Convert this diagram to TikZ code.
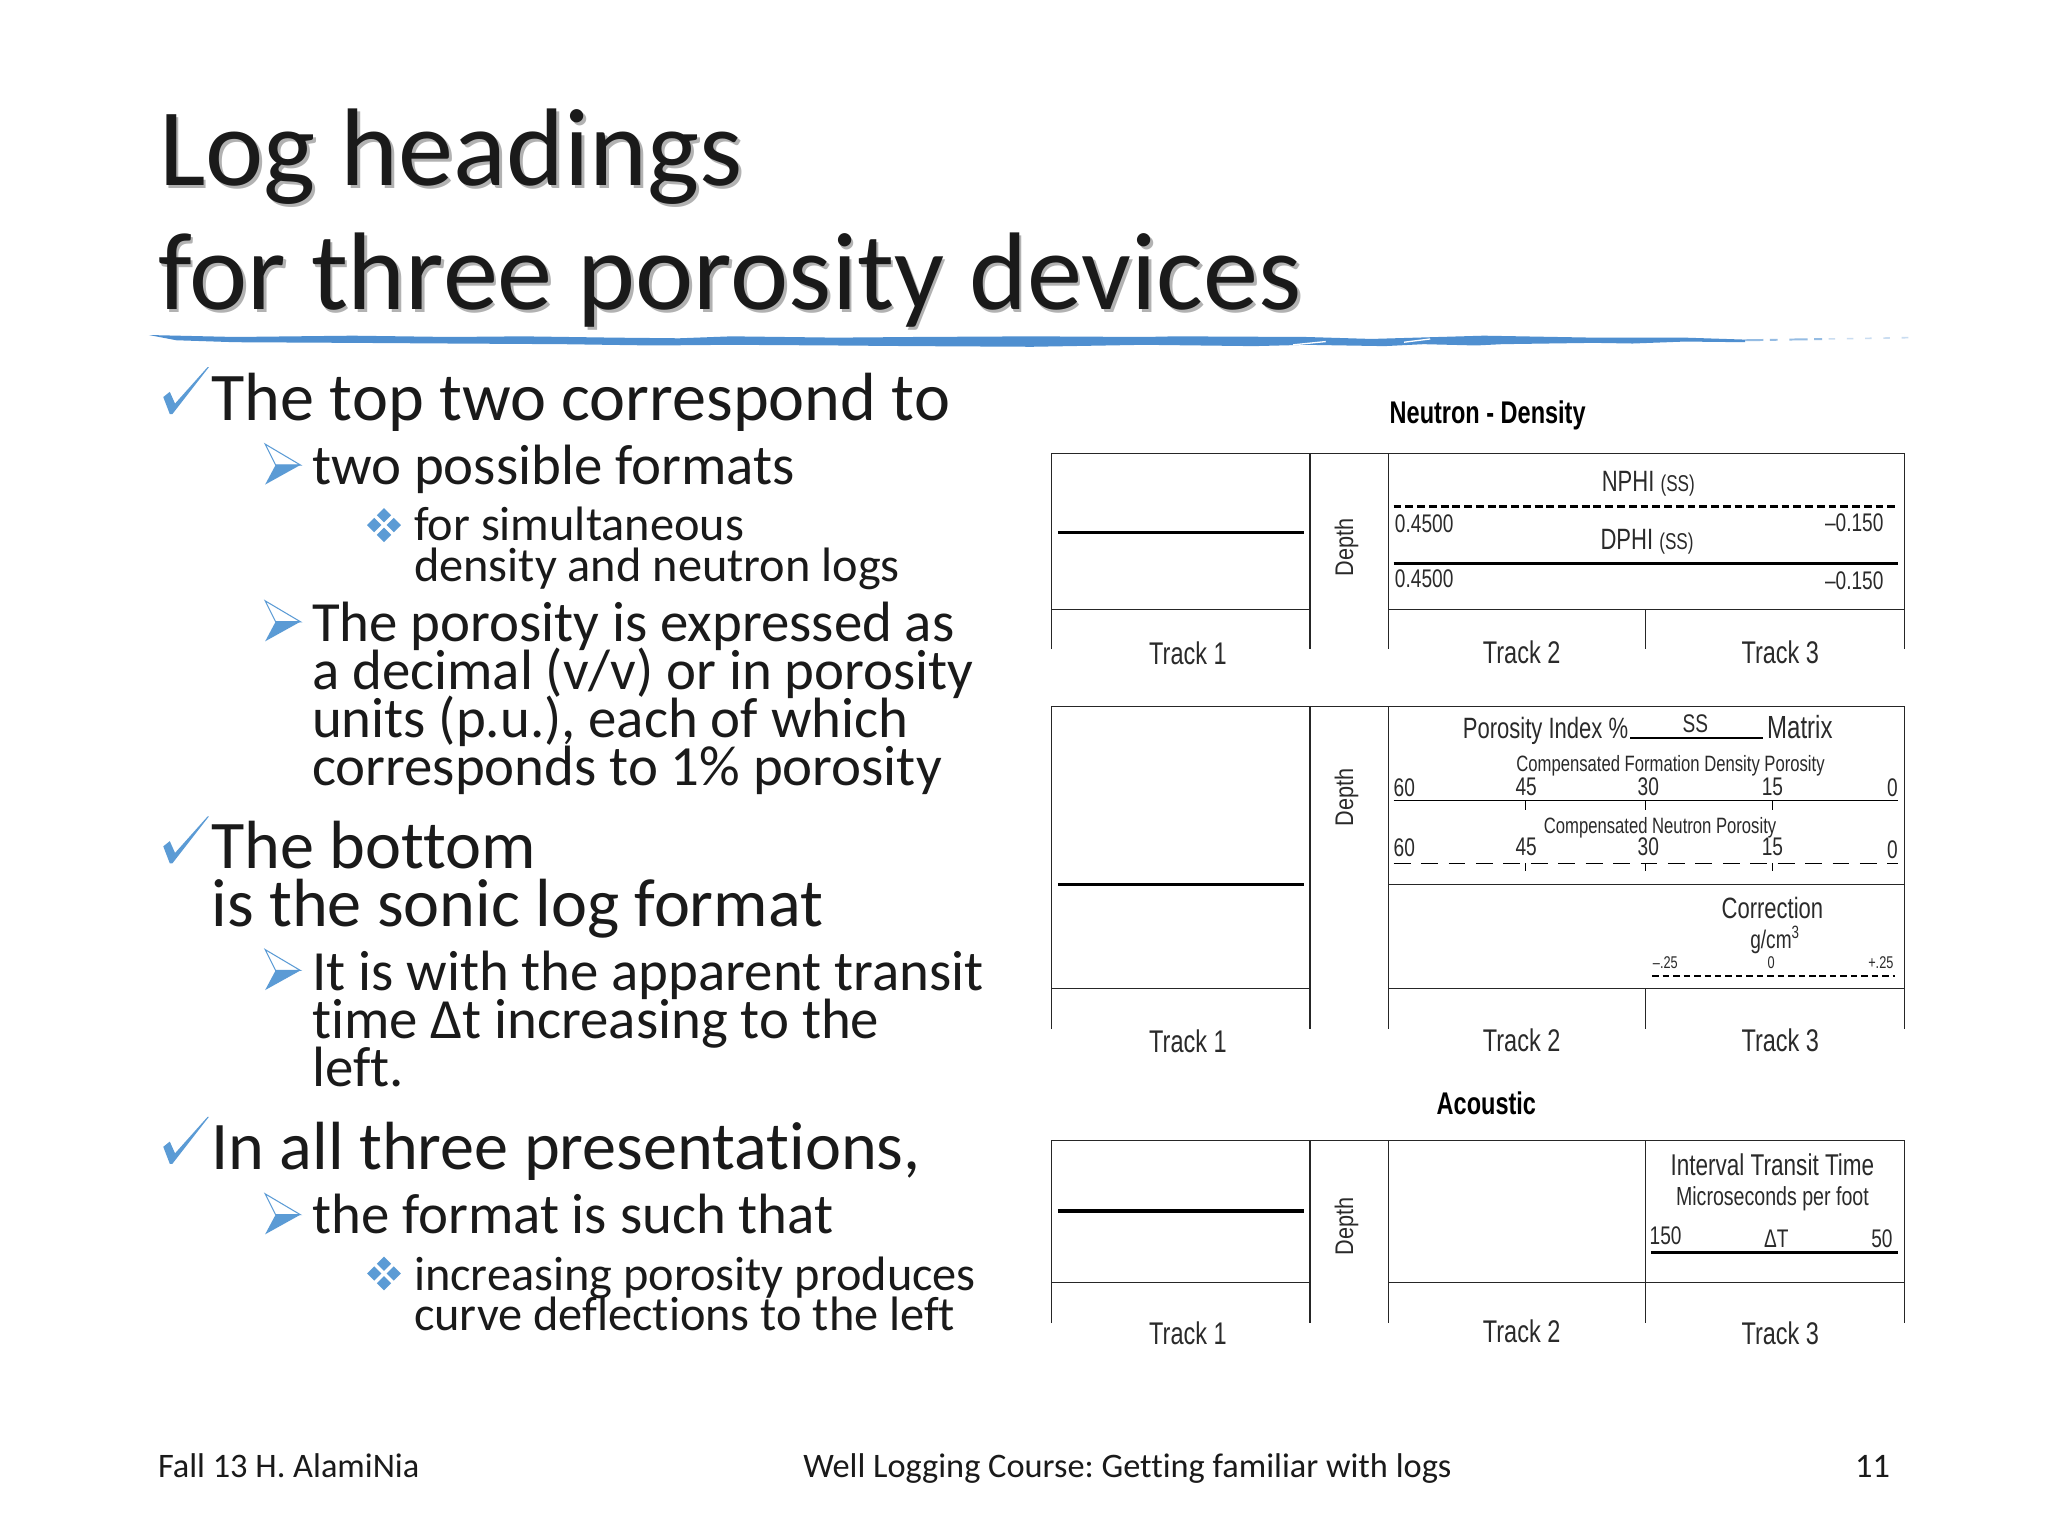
\documentclass[tikz,border=0pt]{standalone}
\usepackage{fontspec}
\setmainfont[Ligatures=NoCommon]{Carlito}
\newfontfamily\logfont[FakeStretch=0.75]{Liberation Sans}
\newfontfamily\depthfont[FakeStretch=0.85]{Liberation Sans}
\usepackage{xcolor}
\usetikzlibrary{positioning}
\frenchspacing

\definecolor{bulletblue}{HTML}{5B9BD5}
\definecolor{ruleblue}{HTML}{4F8FD0}
\definecolor{inkblack}{HTML}{1A1A1A}
\definecolor{logink}{HTML}{2A2A2A}

\tikzset{
	slidetext/.style={anchor=base west, inner sep=0pt, outer sep=0pt, text=inkblack},
	titletext/.style={slidetext, font=\fontsize{84.5}{84.5}\selectfont},
	titleshade/.style={titletext, text=black!30},
	levelone/.style={slidetext, font=\fontsize{52.2}{52.2}\selectfont},
	leveltwo/.style={slidetext, font=\fontsize{43.5}{43.5}\selectfont},
	levelthree/.style={slidetext, font=\fontsize{37}{37}\selectfont},
	footertext/.style={slidetext, font=\fontsize{26.3}{26.3}\selectfont},
	logtext/.style={anchor=base, inner sep=0pt, outer sep=0pt, text=logink, font=\logfont\fontsize{19.5}{19.5}\selectfont},
	logwest/.style={logtext, anchor=base west},
	logeast/.style={logtext, anchor=base east},
	trackname/.style={logtext, font=\logfont\fontsize{24}{24}\selectfont},
	logbig/.style={logtext, font=\logfont\fontsize{22.5}{22.5}\selectfont},
	logsmall/.style={logtext, font=\logfont\fontsize{17}{17}\selectfont},
	logtiny/.style={logtext, font=\logfont\fontsize{13}{13}\selectfont},
	logtitle/.style={logtext, text=black, font=\logfont\bfseries\fontsize{24}{24}\selectfont},
	depthlabel/.style={anchor=base, rotate=90, inner sep=0pt, outer sep=0pt, text=logink, font=\depthfont\fontsize{19.5}{19.5}\selectfont},
	boxline/.style={draw=black!85, line width=1pt},
	curveline/.style={draw=black, line width=2.4pt},
	heavyline/.style={draw=black, line width=2.8pt},
	checkbullet/.pic={\fill[bulletblue] (0,23) -- (5,19) -- (9,28) -- (34,0) -- (35,0) -- (7,36) -- (5,36) -- cycle;},
	arrowbullet/.pic={
		\draw[bulletblue, line width=0.8pt] (0,0) -- (27,16) -- (8,16) -- cycle;
		\fill[bulletblue] (8,16) -- (27,16) -- (0,31) -- cycle;},
	diamondbullet/.pic={
		\foreach \dx/\dy in {0/-7.5, -7.5/0, 7.5/0, 0/7.5}
			\fill[bulletblue] (\dx-5.5,\dy) -- (\dx,\dy-5.5) -- (\dx+5.5,\dy) -- (\dx,\dy+5.5) -- cycle;},
}

\begin{document}
\begin{tikzpicture}[x=1pt, y=-1pt]
	\useasboundingbox (0,0) rectangle (1568,1176);
	\fill[white] (0,0) rectangle (1568,1176);

	% Title
	\node[titleshade] (titlesa) at (124,144) {Log headings};
	\node[titleshade] (titlesb) at (123,239) {for three porosity devices};
	\node[titletext] (titlea) at (122,142) {Log headings};
	\node[titletext] (titleb) at (121,237) {for three porosity devices};

	% Rule under the title
	\fill[ruleblue] (114,256.5) -- (180,258) -- (270,257) -- (345,258) -- (400,257.5) -- (470,258.5)
		-- (520,259) -- (560,257.5) -- (640,258.5) -- (700,258) -- (790,257.5) -- (876,258)
		-- (900,257.5) -- (1000,258) -- (1050,259.5) -- (1136,257) -- (1220,258.5) -- (1290,258.5) -- (1336,260)
		-- (1336,262) -- (1290,261.5) -- (1250,263) -- (1220,262.5) -- (1150,263.5) -- (1130,264.5)
		-- (1090,263.5) -- (1060,265) -- (1000,264) -- (960,265) -- (876,264) -- (790,265.5)
		-- (700,265) -- (640,264.5) -- (560,264) -- (500,264.5) -- (430,263.5) -- (345,263)
		-- (270,262.5) -- (180,262) -- (135,260.5) -- cycle;
	\draw[white, line width=1pt] (990,264) -- (1015,261.5);
	\draw[white, line width=1pt] (1075,262) -- (1095,259.5);
	\draw[ruleblue!60, line width=1.5pt, dash pattern=on 14pt off 5pt on 6pt off 9pt] (1336,260.5) -- (1400,259.5);
	\draw[ruleblue!30, line width=1.2pt, dash pattern=on 5pt off 9pt] (1400,259.5) -- (1462,258.5);

	% Bullets
	\pic at (125,281) {checkbullet};
	\pic at (125,625) {checkbullet};
	\pic at (125,855) {checkbullet};
	\pic at (203,340) {arrowbullet};
	\pic at (203,460) {arrowbullet};
	\pic at (203,727) {arrowbullet};
	\pic at (203,914) {arrowbullet};
	\pic at (294,402) {diamondbullet};
	\pic at (294,975) {diamondbullet};

	% Text on the left
	\node[levelone] (topa) at (162,322) {The top two correspond to};
	\node[leveltwo] (fmta) at (239,371) {two possible formats};
	\node[levelthree] (sima) at (317,414) {for simultaneous};
	\node[levelthree] (simb) at (317,445) {density and neutron logs};
	\node[leveltwo] (pora) at (239,491) {The porosity is expressed as};
	\node[leveltwo] (porb) at (239,528) {a decimal (v/v) or in porosity};
	\node[leveltwo] (porc) at (239,565) {units (p.u.), each of which};
	\node[leveltwo] (pord) at (239,601.5) {corresponds to 1\% porosity};
	\node[levelone] (bota) at (162,665) {The bottom};
	\node[levelone] (botb) at (162,709) {is the sonic log format};
	\node[leveltwo] (itsa) at (239,758) {It is with the apparent transit};
	\node[leveltwo] (itsb) at (239,795) {time Δt increasing to the};
	\node[leveltwo] (itsc) at (239,832) {left.};
	\node[levelone] (alla) at (162,895) {In all three presentations,};
	\node[leveltwo] (frma) at (239,944) {the format is such that};
	\node[levelthree] (inca) at (317,988) {increasing porosity produces};
	\node[levelthree] (incb) at (317,1019) {curve deflections to the left};

	% Footer
	\node[footertext] (footl) at (121,1131) {Fall 13 H. AlamiNia};
	\node[footertext] (footm) at (615,1131) {Well Logging Course: Getting familiar with logs};
	\node[footertext, anchor=base east] (footr) at (1447,1131) {11};

	% Neutron - Density, first heading
	\node[logtitle] (ndtitle) at (1139,324) {Neutron - Density};
	\draw[boxline] (805,497) -- (805,347) -- (1458,347) -- (1458,497);
	\draw[boxline] (1003,347) -- (1003,497);
	\draw[boxline] (1063,347) -- (1063,497);
	\draw[boxline] (1260,466.5) -- (1260,497);
	\draw[boxline] (805,466.5) -- (1003,466.5);
	\draw[boxline] (1063,466.5) -- (1458,466.5);
	\draw[curveline] (810,408) -- (998,408);
	\draw[curveline, dash pattern=on 6pt off 3pt] (1067,387.5) -- (1453,387.5);
	\draw[curveline] (1067,431.5) -- (1453,431.5);
	\node[depthlabel] (adepth) at (1036,419) {Depth};
	\node[logbig] (anphi) at (1262,376) {NPHI {\fontsize{17.5}{17.5}\selectfont(SS)}};
	\node[logbig] (adphi) at (1261,421) {DPHI {\fontsize{17.5}{17.5}\selectfont(SS)}};
	\node[logwest] (ascalea) at (1068,408) {0.4500};
	\node[logeast] (ascaleb) at (1442,407) {–0.150};
	\node[logwest] (ascalec) at (1068,450) {0.4500};
	\node[logeast] (ascaled) at (1442,451) {–0.150};
	\node[trackname] (atracka) at (909.5,509) {Track 1};
	\node[trackname] (atrackb) at (1165,508) {Track 2};
	\node[trackname] (atrackc) at (1363,508) {Track 3};

	% Neutron - Density, second heading
	\draw[boxline] (805,788) -- (805,541) -- (1458,541) -- (1458,788);
	\draw[boxline] (1003,541) -- (1003,788);
	\draw[boxline] (1063,541) -- (1063,788);
	\draw[boxline] (1260,757) -- (1260,788);
	\draw[boxline] (805,757) -- (1003,757);
	\draw[boxline] (1063,757) -- (1458,757);
	\draw[boxline] (1063,677) -- (1458,677);
	\draw[curveline] (810,677) -- (998,677);
	\draw[line width=1pt] (1248,565) -- (1350,565);
	\draw[line width=1pt] (1067,613) -- (1453,613);
	\draw[line width=1pt, dash pattern=on 13pt off 8pt] (1067,661) -- (1453,661);
	\foreach \tx in {1168,1260,1357} {
		\draw[line width=1pt] (\tx,613) -- (\tx,620);
		\draw[line width=1pt] (\tx,661) -- (\tx,667);
	}
	\draw[line width=1.3pt, dash pattern=on 5pt off 3pt] (1265,747) -- (1451,747);
	\node[depthlabel] (bdepth) at (1036,610.5) {Depth};
	\node[logbig, anchor=base west] (bindex) at (1120,565.5) {Porosity Index \%};
	\node[logtext] (bss) at (1298,561) {SS};
	\node[logbig, anchor=base west, font=\logfont\fontsize{24.5}{24.5}\selectfont] (bmatrix) at (1353,565.5) {Matrix};
	\node[logsmall] (bdensity) at (1279,591) {Compensated Formation Density Porosity};
	\node[logwest] (bdena) at (1067,610) {60};
	\node[logtext] (bdenb) at (1168.5,609) {45};
	\node[logtext] (bdenc) at (1262,609) {30};
	\node[logtext] (bdend) at (1357,609) {15};
	\node[logeast] (bdene) at (1453,610) {0};
	\node[logsmall] (bneutron) at (1271,638) {Compensated Neutron Porosity};
	\node[logwest] (bneua) at (1067,656) {60};
	\node[logtext] (bneub) at (1168.5,655) {45};
	\node[logtext] (bneuc) at (1262,655) {30};
	\node[logtext] (bneud) at (1357,655) {15};
	\node[logeast] (bneue) at (1453,657) {0};
	\node[logbig] (bcorr) at (1357,703) {Correction};
	\node[logtext] (bunit) at (1359,726) {g/cm\textsuperscript{3}};
	\node[logtiny] (bcora) at (1275,741.5) {–.25};
	\node[logtiny] (bcorb) at (1356,741.5) {0};
	\node[logtiny] (bcorc) at (1440,741.5) {+.25};
	\node[trackname] (btracka) at (909.5,806) {Track 1};
	\node[trackname] (btrackb) at (1165,805) {Track 2};
	\node[trackname] (btrackc) at (1363,805) {Track 3};

	% Acoustic heading
	\node[logtitle] (actitle) at (1138,853) {Acoustic};
	\draw[boxline] (805,1013) -- (805,873) -- (1458,873) -- (1458,1013);
	\draw[boxline] (1003,873) -- (1003,1013);
	\draw[boxline] (1063,873) -- (1063,1013);
	\draw[boxline] (1260,873) -- (1260,1013);
	\draw[boxline] (805,982) -- (1003,982);
	\draw[boxline] (1063,982) -- (1458,982);
	\draw[heavyline] (810,927) -- (998,927);
	\draw[heavyline] (1264,959) -- (1453,959);
	\node[depthlabel] (cdepth) at (1036,939) {Depth};
	\node[logbig, font=\logfont\fontsize{23}{23}\selectfont] (cinterval) at (1357,900) {Interval Transit Time};
	\node[logtext, font=\logfont\fontsize{20}{20}\selectfont] (cmicro) at (1357,923) {Microseconds per foot};
	\node[logwest] (cscalea) at (1263,953) {150};
	\node[logtext] (cdelta) at (1360,955) {ΔT};
	\node[logeast] (cscaleb) at (1449,955) {50};
	\node[trackname] (ctracka) at (909.5,1029) {Track 1};
	\node[trackname] (ctrackb) at (1165,1028) {Track 2};
	\node[trackname] (ctrackc) at (1363,1029) {Track 3};
\end{tikzpicture}
\end{document}
